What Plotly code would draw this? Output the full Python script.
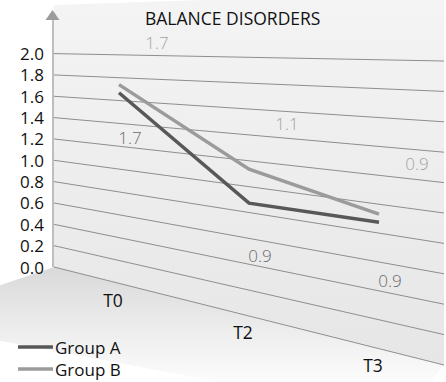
import plotly.graph_objects as go

# ---- data ----
categories = ["T0", "T2", "T3"]
series_names = ["Group A", "Group B"]
group_a = [1.7, 0.9, 0.9]
group_b = [1.7, 1.1, 0.9]
value_ticks = [0.0, 0.2, 0.4, 0.6, 0.8, 1.0, 1.2, 1.4, 1.6, 1.8, 2.0]
tick_labels = ["0.0", "0.2", "0.4", "0.6", "0.8", "1.0", "1.2", "1.4", "1.6", "1.8", "2.0"]
chart_title = "BALANCE DISORDERS"

# ---- styling ----
W, H = 446, 382
FONT = "Open Sans"
SERIES_COLORS = {"Group A": "#585858", "Group B": "#9b9b9b"}
LABEL_COLORS = {"Group A": "#6b6b6b", "Group B": "#a2a2a2"}
GRID_COLOR = "#8e8e8e"

# ---- perspective wall geometry (screen pixels) ----
WALL_X0, WALL_X1 = 54.0, 444.0      # left / right edge of the back wall
BASE_Y0, BASE_Y1 = 267.0, 365.0     # value 0 at left / right edge
UNIT_Y0, UNIT_Y1 = 106.7, 152.0     # pixels per value unit at left / right edge
WALL_TOP = 2.455                    # wall height in value units
FLOOR_DIR0 = (-53.0, 18.0)          # floor depth direction at left edge
FLOOR_DIR1 = (-14.0, 17.0)          # floor depth direction at right edge
SERIES_SHIFT = {"Group A": 3.6, "Group B": -4.5}        # series row depth offset (px)
LABEL_OFFSET = {"Group A": (11, -0.43), "Group B": (38, 0.39)}  # (px, value units)
CAT_LABEL_OFFSET = (-6, 19)


def cat_x(i):
    return WALL_X0 + (i + 0.5) * (WALL_X1 - WALL_X0) / len(categories)


def wall_y(x, v):
    t = (x - WALL_X0) / (WALL_X1 - WALL_X0)
    return BASE_Y0 + (BASE_Y1 - BASE_Y0) * t - v * (UNIT_Y0 + (UNIT_Y1 - UNIT_Y0) * t)


def floor_xy(t, w):
    bx = WALL_X0 + t * (WALL_X1 - WALL_X0)
    by = wall_y(bx, 0)
    dx = FLOOR_DIR0[0] + t * (FLOOR_DIR1[0] - FLOOR_DIR0[0])
    dy = FLOOR_DIR0[1] + t * (FLOOR_DIR1[1] - FLOOR_DIR0[1])
    return bx + w * dx, by + w * dy


fig = go.Figure()

# back wall
wx = [WALL_X0, WALL_X1, WALL_X1, WALL_X0, WALL_X0]
wy = [wall_y(WALL_X0, 0), wall_y(WALL_X1, 0), wall_y(WALL_X1, WALL_TOP),
      wall_y(WALL_X0, WALL_TOP), wall_y(WALL_X0, 0)]
fig.add_trace(go.Scatter(
    x=wx, y=wy, mode="lines", fill="toself", line=dict(width=0),
    fillgradient=dict(type="vertical", start=0, stop=365,
                      colorscale=[[0, "#f4f4f4"], [1, "#e6e6e6"]]),
    hoverinfo="skip", showlegend=False))

# floor
fc = [floor_xy(0, 0), floor_xy(1, 0), floor_xy(1, 3), floor_xy(0, 3), floor_xy(0, 0)]
fig.add_trace(go.Scatter(
    x=[p[0] for p in fc], y=[p[1] for p in fc], mode="lines", fill="toself",
    line=dict(width=0),
    fillgradient=dict(type="vertical", start=267, stop=382,
                      colorscale=[[0, "#d9d9d9"], [0.55, "#ededed"], [1, "#fcfcfc"]]),
    hoverinfo="skip", showlegend=False))

# gridlines on the wall
gx, gy = [], []
for v in value_ticks:
    gx += [WALL_X0, WALL_X1, None]
    gy += [wall_y(WALL_X0, v), wall_y(WALL_X1, v), None]
fig.add_trace(go.Scatter(x=gx, y=gy, mode="lines",
                         line=dict(color=GRID_COLOR, width=1),
                         hoverinfo="skip", showlegend=False))

# vertical axis with arrow head
fig.add_shape(type="line", x0=WALL_X0 - 1, x1=WALL_X0 - 1, y0=wall_y(WALL_X0, 0), y1=19,
              line=dict(color="#a8a8a8", width=1.5))
fig.add_shape(type="path", path="M 45.5 20 L 59.5 20 L 52.5 10 Z",
              fillcolor="#9c9c9c", line=dict(width=0))

# value tick labels
for v, lab in zip(value_ticks, tick_labels):
    fig.add_annotation(x=46, y=wall_y(WALL_X0, v), text=lab, showarrow=False,
                       xanchor="right", yanchor="middle",
                       font=dict(family=FONT, size=17, color="#111111"))

# series lines and value labels
for name, vals in zip(series_names, [group_a, group_b]):
    xs = [cat_x(i) for i in range(len(categories))]
    ys = [wall_y(x, v) + SERIES_SHIFT[name] for x, v in zip(xs, vals)]
    fig.add_trace(go.Scatter(x=xs, y=ys, mode="lines", name=name,
                             line=dict(color=SERIES_COLORS[name], width=3.5),
                             hoverinfo="skip", showlegend=False))
    dxl, dvl = LABEL_OFFSET[name]
    lx = [x + dxl for x in xs]
    ly = [wall_y(x, v + dvl) for x, v in zip(lx, vals)]
    fig.add_trace(go.Scatter(x=lx, y=ly, mode="text", text=[f"{v:.1f}" for v in vals],
                             textposition="middle center",
                             textfont=dict(family=FONT, size=17, weight=300,
                                           color=LABEL_COLORS[name]),
                             hoverinfo="skip", showlegend=False))

# category labels along the floor
cx = [cat_x(i) + CAT_LABEL_OFFSET[0] for i in range(len(categories))]
cy = [wall_y(cat_x(i), 0) + CAT_LABEL_OFFSET[1] for i in range(len(categories))]
fig.add_trace(go.Scatter(x=cx, y=cy, mode="text", text=categories,
                         textposition="middle center",
                         textfont=dict(family=FONT, size=17.5, color="#111111"),
                         hoverinfo="skip", showlegend=False))

# legend
for k, name in enumerate(series_names):
    ly = 347 + 22 * k
    fig.add_shape(type="line", x0=18, x1=53, y0=ly, y1=ly,
                  line=dict(color=SERIES_COLORS[name], width=3.5))
    fig.add_annotation(x=53, y=ly, text=name, showarrow=False, xanchor="left",
                       yanchor="middle", font=dict(family=FONT, size=17, color="#111111"))

# title
fig.add_annotation(x=232, y=18, text=chart_title, showarrow=False, xanchor="center",
                   yanchor="middle", font=dict(family=FONT, size=17.5, color="#111111"))

fig.update_layout(
    width=W, height=H, margin=dict(l=0, r=0, t=0, b=0),
    paper_bgcolor="white", plot_bgcolor="rgba(0,0,0,0)",
    xaxis=dict(range=[0, W], visible=False, fixedrange=True),
    yaxis=dict(range=[H, 0], visible=False, fixedrange=True),
    showlegend=False,
)

fig.write_html("out.html")
